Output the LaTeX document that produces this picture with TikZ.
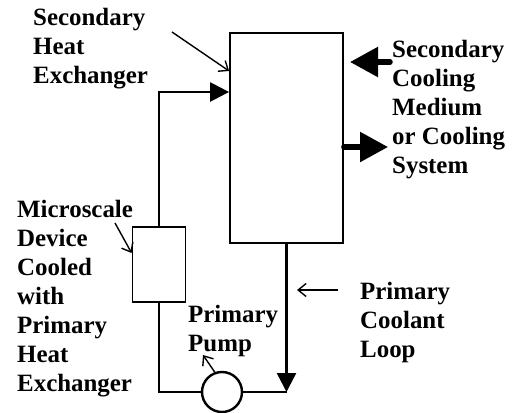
\documentclass[tikz,border=0pt]{standalone}
\usepackage{fontspec}
\setmainfont{Liberation Serif}
\usetikzlibrary{arrows.meta,positioning,calc}
\tikzset{
  lbl/.style={align=left, inner sep=0pt, anchor=base west,
              font=\fontsize{25}{29}\selectfont\bfseries},
  unit/.style={draw, line width=1.8bp, inner sep=0pt},
  loopline/.style={line width=2.4bp},
  flow/.style={loopline, -{Triangle[length=19bp,width=19bp]}},
  pointer/.style={line width=1.4bp, -{Straight Barb[length=8bp,width=13bp]}},
  bigflow/.style={line width=5.5bp, line cap=round, -{Triangle[length=28bp,width=29bp]}},
}
\begin{document}
\begin{tikzpicture}[x=1bp, y=-1bp]
  \useasboundingbox (0,0) rectangle (512,412);
  % units of the loop
  \node[unit, minimum width=113bp, minimum height=210bp] (hx) at (286.5,138) {};
  \node[unit, minimum width=53bp, minimum height=75bp] (dev) at (159,264.5) {};
  \node[unit, circle, minimum size=40bp, line width=2.4bp] (pump) at (222,392) {};
  % labels (placed at the baseline of their last line)
  \node[lbl] (hxlbl) at (33,83) {Secondary\\ Heat\\ Exchanger};
  \node[lbl] (devlbl) at (17,391) {Microscale\\ Device\\ Cooled\\ with\\ Primary\\ Heat\\ Exchanger};
  \node[lbl] (medlbl) at (392,173) {Secondary\\ Cooling\\ Medium\\ or Cooling\\ System};
  \node[lbl] (looplbl) at (360,357) {Primary\\ Coolant\\ Loop};
  \node[lbl] (pumplbl) at (188,351) {Primary\\ Pump};
  % primary coolant loop
  \coordinate (hxin) at (hx.west |- 0,92);
  \coordinate (corner) at (hx.south |- pump);
  \draw[flow] (dev.north) |- (hxin);
  \draw[loopline] (dev.south) |- (pump.west);
  \draw[loopline] (pump.east) -- (corner);
  \draw[flow] (hx.south) -- (corner);
  % secondary side
  \coordinate (medin) at (390,62);
  \coordinate (medtip) at (350,62);
  \coordinate (medout) at (388,147);
  \draw[bigflow] (medin) -- (medtip);
  \draw[bigflow] (hx.east |- medout) -- (medout);
  % pointers
  \coordinate (hxptr) at (172,32);
  \coordinate (devptr) at (115,223);
  \coordinate (loopptr) at (338,290);
  \coordinate (loopend) at (297,290);
  \coordinate (pumpend) at (203,355);
  \draw[pointer] (hxptr) -- (hx.west |- 0,71);
  \draw[pointer] (devptr) -- (dev.west |- 0,253);
  \draw[pointer] (loopptr) -- (loopend);
  \draw[pointer] (pump.110) -- (pumpend);
\end{tikzpicture}
\end{document}
